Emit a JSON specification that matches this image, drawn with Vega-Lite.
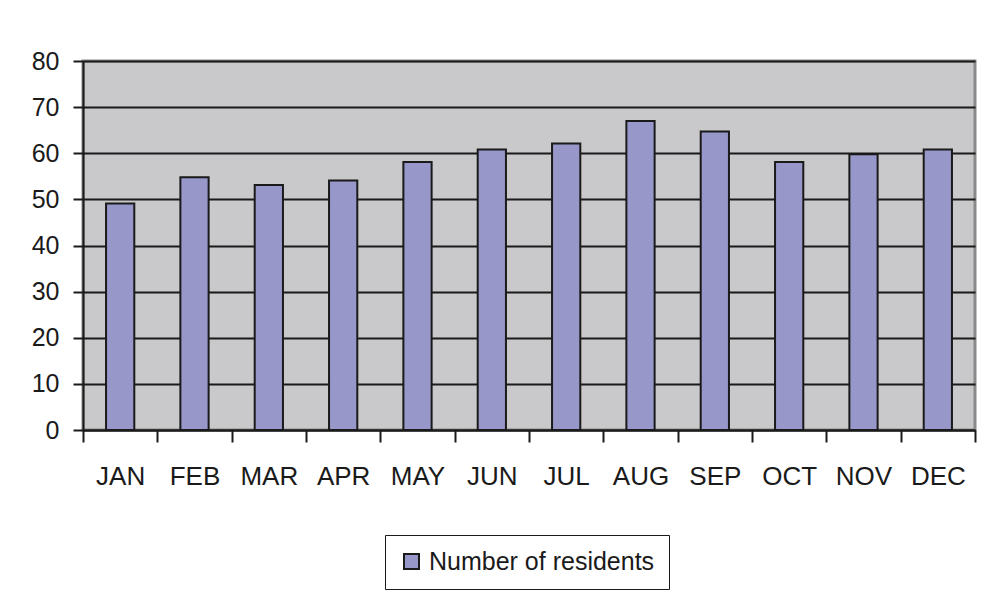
{
  "$schema": "https://vega.github.io/schema/vega-lite/v6.json",
  "autosize": {"type": "none"},
  "width": 892,
  "height": 369,
  "padding": {"left": 83, "top": 61, "right": 6, "bottom": 170},
  "background": "white",
  "data": {
    "values": [
      {"month": "JAN", "residents": 49.1, "series": "Number of residents"},
      {"month": "FEB", "residents": 54.8, "series": "Number of residents"},
      {"month": "MAR", "residents": 53.1, "series": "Number of residents"},
      {"month": "APR", "residents": 54.1, "series": "Number of residents"},
      {"month": "MAY", "residents": 58.1, "series": "Number of residents"},
      {"month": "JUN", "residents": 60.8, "series": "Number of residents"},
      {"month": "JUL", "residents": 62.1, "series": "Number of residents"},
      {"month": "AUG", "residents": 67.0, "series": "Number of residents"},
      {"month": "SEP", "residents": 64.7, "series": "Number of residents"},
      {"month": "OCT", "residents": 58.1, "series": "Number of residents"},
      {"month": "NOV", "residents": 59.8, "series": "Number of residents"},
      {"month": "DEC", "residents": 60.8, "series": "Number of residents"}
    ]
  },
  "mark": {"type": "bar", "stroke": "#1a1a1a", "strokeWidth": 2, "width": {"band": 0.38}},
  "encoding": {
    "x": {
      "field": "month",
      "type": "nominal",
      "sort": null,
      "scale": {"paddingInner": 0, "paddingOuter": 0},
      "axis": {
        "title": null,
        "labelAngle": 0,
        "tickBand": "extent",
        "grid": false,
        "domainColor": "#1a1a1a",
        "domainWidth": 2,
        "tickColor": "#1a1a1a",
        "tickWidth": 2,
        "tickSize": 12,
        "labelFont": "Liberation Sans",
        "labelFontSize": 26,
        "labelColor": "#1a1a1a",
        "labelPadding": 21
      }
    },
    "y": {
      "field": "residents",
      "type": "quantitative",
      "scale": {"domain": [0, 80]},
      "axis": {
        "title": null,
        "values": [0, 10, 20, 30, 40, 50, 60, 70, 80],
        "grid": true,
        "gridColor": "#1a1a1a",
        "gridWidth": 2,
        "domainColor": "#1a1a1a",
        "domainWidth": 2,
        "tickColor": "#1a1a1a",
        "tickWidth": 2,
        "tickSize": 10,
        "labelFont": "Liberation Sans",
        "labelFontSize": 25,
        "labelColor": "#1a1a1a",
        "labelPadding": 14
      }
    },
    "color": {
      "field": "series",
      "type": "nominal",
      "scale": {"range": ["#9797CA"]},
      "legend": {
        "title": null,
        "orient": "none",
        "legendX": 302,
        "legendY": 474,
        "strokeColor": "#1a1a1a",
        "padding": 14,
        "symbolType": "square",
        "symbolSize": 225,
        "symbolStrokeColor": "#1a1a1a",
        "symbolStrokeWidth": 2,
        "symbolOpacity": 1,
        "labelFont": "Liberation Sans",
        "labelFontSize": 25,
        "labelColor": "#1a1a1a",
        "labelOffset": 5,
        "labelLimit": 400
      }
    }
  },
  "config": {
    "view": {"fill": "#C9C9CB", "stroke": "#8a8a8a", "strokeWidth": 3}
  }
}
